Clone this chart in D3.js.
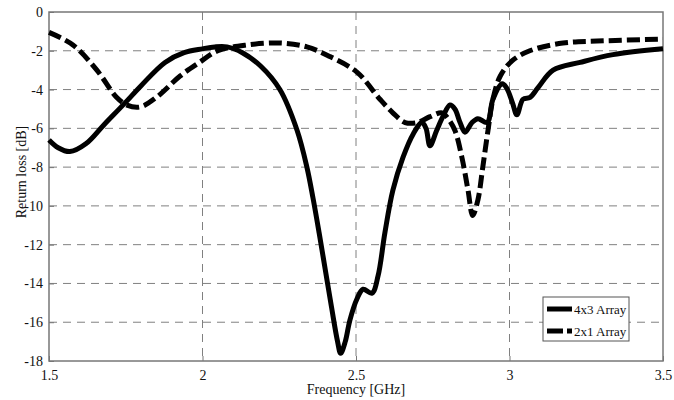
<!DOCTYPE html>
<html>
<head>
<meta charset="utf-8">
<script src="https://cdn.jsdelivr.net/npm/d3@7"></script>
<style>
  body { margin: 0; background: #fff; }
  text { font-family: "Liberation Serif", "DejaVu Serif", serif; fill: #111; }
</style>
</head>
<body>
<svg id="svg"></svg>
<script>
const width = 674;
const height = 400;

// frequency [GHz] and return loss [dB]
const freq4x3 = [1.5, 1.53, 1.568, 1.62, 1.68, 1.747, 1.8, 1.878, 1.94, 2.0, 2.04, 2.08, 2.13, 2.19, 2.252, 2.308, 2.34, 2.36, 2.38, 2.40, 2.42, 2.44, 2.45, 2.465, 2.48, 2.503, 2.523, 2.552, 2.572, 2.594, 2.62, 2.653, 2.686, 2.715, 2.728, 2.741, 2.763, 2.783, 2.806, 2.822, 2.839, 2.855, 2.878, 2.897, 2.927, 2.946, 2.976, 2.99, 3.01, 3.024, 3.044, 3.067, 3.093, 3.142, 3.23, 3.337, 3.5];
const loss4x3 = [-6.6, -7.0, -7.2, -6.8, -5.8, -4.7, -3.8, -2.6, -2.1, -1.9, -1.8, -1.8, -2.1, -2.8, -4.0, -6.1, -8.0, -9.6, -11.4, -13.3, -15.2, -17.0, -17.6, -17.0, -15.9, -14.8, -14.3, -14.5, -13.6, -11.4, -9.2, -7.5, -6.3, -5.7, -6.0, -6.9, -6.1, -5.4, -4.8, -5.0, -5.7, -6.2, -5.7, -5.5, -5.7, -4.5, -3.7, -3.9, -4.7, -5.3, -4.5, -4.4, -3.9, -3.0, -2.6, -2.2, -1.9];

const freq2x1 = [1.5, 1.578, 1.656, 1.72, 1.754, 1.796, 1.85, 1.927, 1.99, 2.05, 2.145, 2.252, 2.34, 2.415, 2.503, 2.578, 2.62, 2.66, 2.7, 2.741, 2.78, 2.80, 2.822, 2.845, 2.865, 2.88, 2.897, 2.913, 2.93, 2.946, 2.97, 3.01, 3.066, 3.174, 3.285, 3.5];
const loss2x1 = [-1.05, -1.7, -3.0, -4.4, -4.8, -4.9, -4.4, -3.3, -2.6, -2.0, -1.7, -1.6, -1.8, -2.3, -3.1, -4.5, -5.2, -5.7, -5.7, -5.4, -5.2, -5.5, -6.1, -7.5, -9.2, -10.5, -9.7, -8.0, -6.1, -4.5, -3.3, -2.5, -2.0, -1.6, -1.5, -1.4];

const xTicks = [1.5, 2, 2.5, 3, 3.5];
const yTicks = [0, -2, -4, -6, -8, -10, -12, -14, -16, -18];
const seriesNames = ["4x3 Array", "2x1 Array"];

const plotLeft = 49, plotRight = 663, plotTop = 12, plotBottom = 361;
let svg = d3.select("#svg").attr("width", width).attr("height", height);

const xScale = d3.scaleLinear().domain([1.5, 3.5]).range([plotLeft, plotRight]);
const yScale = d3.scaleLinear().domain([-18, 0]).range([plotBottom, plotTop]);

// grid
const grid = svg.append("g").attr("stroke", "#808080").attr("stroke-width", 1).attr("stroke-dasharray", "8,6");
grid.selectAll("line.gy")
    .data(yTicks.slice(1, -1))
    .join("line")
    .attr("class", "gy")
    .attr("x1", plotLeft).attr("x2", plotRight)
    .attr("y1", d => yScale(d)).attr("y2", d => yScale(d));
grid.selectAll("line.gx")
    .data(xTicks.slice(1, -1))
    .join("line")
    .attr("class", "gx")
    .attr("y1", plotTop).attr("y2", plotBottom)
    .attr("x1", d => xScale(d)).attr("x2", d => xScale(d));

// axes (plain hyphen minus, like the original)
const xAxis = d3.axisBottom(xScale).tickValues(xTicks).tickSize(-5).tickPadding(9).tickFormat(d => String(d));
const yAxis = d3.axisLeft(yScale).tickValues(yTicks).tickSize(-5).tickPadding(6).tickFormat(d => String(d));
const gx = svg.append("g").attr("transform", `translate(0,${plotBottom})`).call(xAxis);
const gy = svg.append("g").attr("transform", `translate(${plotLeft},0)`).call(yAxis);
[gx, gy].forEach(g => {
    g.select(".domain").remove();
    g.selectAll("line").attr("stroke", "#777");
    g.selectAll("text").attr("font-size", "14px").attr("font-family", "Liberation Serif").attr("fill", "#111");
});

// plot box
svg.append("rect")
    .attr("x", plotLeft).attr("y", plotTop)
    .attr("width", plotRight - plotLeft).attr("height", plotBottom - plotTop)
    .attr("fill", "none").attr("stroke", "#777").attr("stroke-width", 1.5);

// curves
const line = d3.line().x(d => xScale(d[0])).y(d => yScale(d[1])).curve(d3.curveCatmullRom);
svg.append("path")
    .datum(d3.zip(freq2x1, loss2x1))
    .attr("d", line)
    .attr("fill", "none").attr("stroke", "#000").attr("stroke-width", 5)
    .attr("stroke-dasharray", "13,5");
svg.append("path")
    .datum(d3.zip(freq4x3, loss4x3))
    .attr("d", line)
    .attr("fill", "none").attr("stroke", "#000").attr("stroke-width", 5)
    .attr("stroke-linejoin", "round");

// axis labels
svg.append("text")
    .attr("x", (plotLeft + plotRight) / 2).attr("y", 394)
    .attr("text-anchor", "middle").attr("font-size", "14px")
    .text("Frequency [GHz]");
svg.append("text")
    .attr("transform", "translate(26,172) rotate(-90)")
    .attr("text-anchor", "middle").attr("font-size", "14px")
    .text("Return loss [dB]");

// legend
const legend = svg.append("g").attr("transform", "translate(543,297)");
legend.append("rect")
    .attr("width", 86).attr("height", 44)
    .attr("fill", "#fff").attr("stroke", "#555").attr("stroke-width", 1);
legend.selectAll("line")
    .data(seriesNames)
    .join("line")
    .attr("x1", 4).attr("x2", 29)
    .attr("y1", (d, i) => 12 + i * 22).attr("y2", (d, i) => 12 + i * 22)
    .attr("stroke", "#000").attr("stroke-width", 5)
    .attr("stroke-dasharray", (d, i) => i === 0 ? null : "16,4");
legend.selectAll("text")
    .data(seriesNames)
    .join("text")
    .attr("x", 31).attr("y", (d, i) => 12 + i * 22)
    .attr("dy", "0.35em").attr("font-size", "13px")
    .text(d => d);
</script>
</body>
</html>
